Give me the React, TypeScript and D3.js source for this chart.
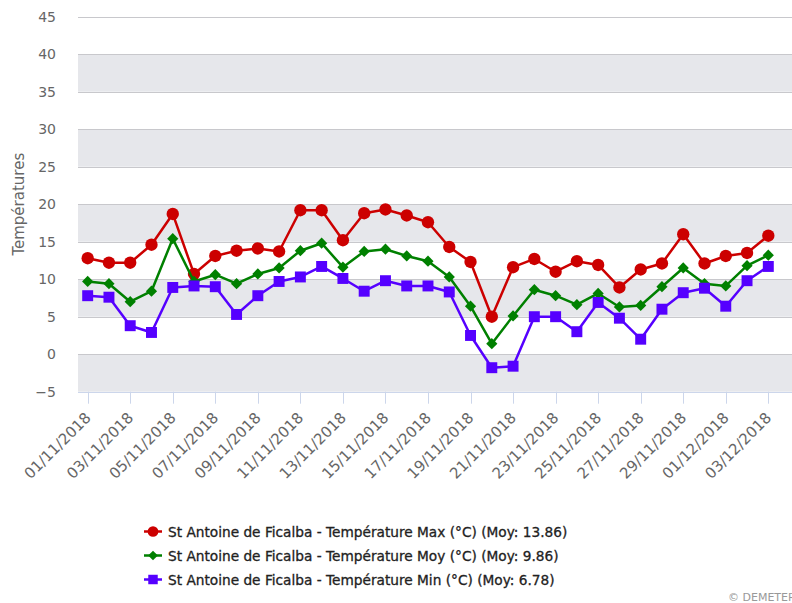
import React from 'react';
import * as d3 from 'd3';

const dates = [
  '01/11/2018', '02/11/2018', '03/11/2018', '04/11/2018', '05/11/2018', '06/11/2018',
  '07/11/2018', '08/11/2018', '09/11/2018', '10/11/2018', '11/11/2018', '12/11/2018',
  '13/11/2018', '14/11/2018', '15/11/2018', '16/11/2018', '17/11/2018', '18/11/2018',
  '19/11/2018', '20/11/2018', '21/11/2018', '22/11/2018', '23/11/2018', '24/11/2018',
  '25/11/2018', '26/11/2018', '27/11/2018', '28/11/2018', '29/11/2018', '30/11/2018',
  '01/12/2018', '02/12/2018', '03/12/2018',
];

const tempMax = [
  12.8, 12.2, 12.2, 14.6, 18.7, 10.7, 13.1, 13.8, 14.1, 13.7, 19.2, 19.2,
  15.2, 18.8, 19.3, 18.5, 17.6, 14.3, 12.3, 5.0, 11.6, 12.7, 11.0, 12.4,
  11.9, 8.9, 11.3, 12.1, 16.0, 12.1, 13.1, 13.5, 15.8,
];

const tempMoy = [
  9.7, 9.4, 7.0, 8.4, 15.4, 9.7, 10.6, 9.4, 10.7, 11.5, 13.8, 14.8,
  11.6, 13.7, 14.0, 13.1, 12.4, 10.3, 6.4, 1.4, 5.1, 8.6, 7.8, 6.6,
  8.1, 6.3, 6.5, 9.0, 11.5, 9.4, 9.1, 11.8, 13.2,
];

const tempMin = [
  7.8, 7.6, 3.8, 2.9, 8.9, 9.1, 9.0, 5.3, 7.8, 9.7, 10.3, 11.7,
  10.1, 8.4, 9.8, 9.1, 9.1, 8.3, 2.5, -1.8, -1.6, 5.0, 5.0, 3.0,
  6.9, 4.8, 2.0, 6.0, 8.2, 8.8, 6.4, 9.8, 11.7,
];

const yTicks = [-5, 0, 5, 10, 15, 20, 25, 30, 35, 40, 45];

const series = [
  { name: 'St Antoine de Ficalba - Température Max (°C) (Moy: 13.86)', values: tempMax, color: '#cc0000', symbol: d3.symbolCircle, size: 120 },
  { name: 'St Antoine de Ficalba - Température Moy (°C) (Moy: 9.86)', values: tempMoy, color: '#008000', symbol: d3.symbolDiamond2, size: 80 },
  { name: 'St Antoine de Ficalba - Température Min (°C) (Moy: 6.78)', values: tempMin, color: '#5500ff', symbol: d3.symbolSquare, size: 120 },
];

const W = 792;
const H = 603;
const FONT = '"DejaVu Sans", sans-serif';

export default function App() {
  const x = d3.scaleLinear().domain([-0.455, 33.114]).range([78, 792]);
  const y = d3.scaleLinear().domain([-5, 45]).range([391.7, 16.7]);
  const [x0, x1] = x.range();

  const line = d3.line<number>()
    .x((_, i) => x(i))
    .y(d => y(d));

  // alternate bands: -5..0, 5..10, 15..20, 25..30, 35..40
  const bands = yTicks.filter(v => v < 45 && ((v + 5) / 10) % 1 === 0);
  const xTickIdx = dates.map((_, i) => i).filter(i => i % 2 === 0);

  return (
    <svg width={W} height={H} style={{ position: 'absolute', left: 0, top: 0, fontFamily: FONT }}>
      <rect width={W} height={H} fill="#fff" />
      {bands.map(v => (
        <rect key={v} x={x0} width={x1 - x0} y={y(v + 5)} height={y(v) - y(v + 5)} fill="#e6e7eb" />
      ))}
      {yTicks.filter(v => v > -5).map(v => (
        <line key={v} x1={x0} x2={x1} y1={Math.round(y(v)) + 0.5} y2={Math.round(y(v)) + 0.5} stroke="#c8c8cc" />
      ))}
      <line x1={x0} x2={x1} y1={Math.round(y(-5)) + 0.5} y2={Math.round(y(-5)) + 0.5} stroke="#ccd6eb" />
      {xTickIdx.map(i => (
        <line key={i} x1={Math.round(x(i)) + 0.5} x2={Math.round(x(i)) + 0.5} y1={y(-5)} y2={y(-5) + 12} stroke="#ccd6eb" />
      ))}
      {yTicks.map(v => (
        <text key={v} x={56} y={y(v) + 5} textAnchor="end" fontSize={14} fill="#666">
          {v < 0 ? '\u2212' + Math.abs(v) : v}
        </text>
      ))}
      {xTickIdx.map(i => (
        <text key={i} transform={`translate(${x(i) + 4},${y(-5) + 27}) rotate(-45)`} textAnchor="end" fontSize={15} fill="#666">
          {dates[i]}
        </text>
      ))}
      <text transform={`translate(24,${(y(45) + y(-5)) / 2}) rotate(-90)`} textAnchor="middle" fontSize={15} fill="#666">
        Températures
      </text>
      {series.map(s => (
        <g key={s.name}>
          <path d={line(s.values) || ''} fill="none" stroke={s.color} strokeWidth={2.5} strokeLinejoin="round" />
          {s.values.map((v, i) => (
            <path key={i} transform={`translate(${x(i)},${y(v)})`} d={d3.symbol(s.symbol, s.size)() || ''} fill={s.color} />
          ))}
        </g>
      ))}
      {series.map((s, k) => {
        const cy = 531.5 + k * 24;
        return (
          <g key={s.name}>
            <line x1={144} x2={162} y1={cy} y2={cy} stroke={s.color} strokeWidth={2.5} />
            <path transform={`translate(153,${cy})`} d={d3.symbol(s.symbol, s.size * 0.75)() || ''} fill={s.color} />
            <text x={168} y={cy + 5} fontSize={13.7} fill="#222" stroke="#222" strokeWidth={0.3}>{s.name}</text>
          </g>
        );
      })}
      <text x={728} y={601} fontSize={11} fill="#999">© DEMETER</text>
    </svg>
  );
}
